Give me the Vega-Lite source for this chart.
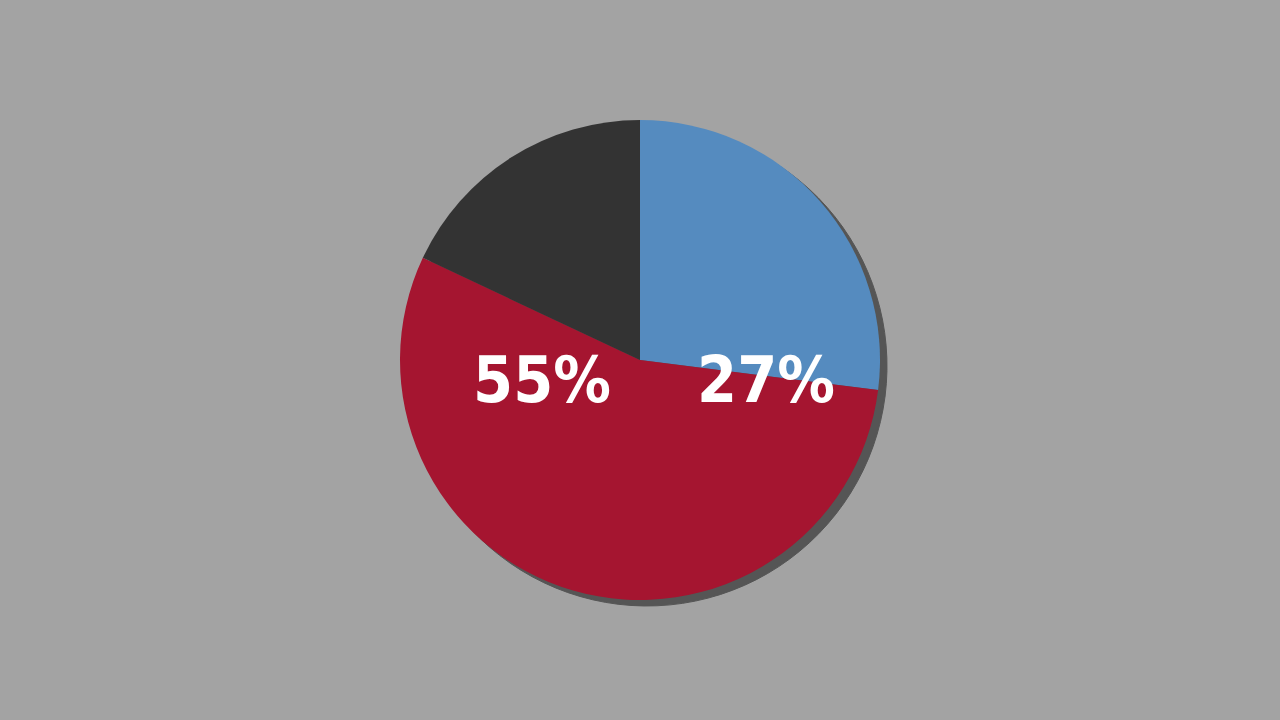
{
  "$schema": "https://vega.github.io/schema/vega-lite/v6.json",
  "autosize": {"type": "fit", "contains": "padding"},
  "width": 1280,
  "height": 720,
  "padding": 0,
  "background": "#a3a3a3",
  "view": {"stroke": null},
  "data": {
    "values": [
      {"segment": "Blue", "rank": 1, "value": 27, "label": "27%"},
      {"segment": "Red", "rank": 2, "value": 55, "label": "55%"},
      {"segment": "Black", "rank": 3, "value": 18, "label": ""}
    ]
  },
  "encoding": {
    "theta": {"field": "value", "type": "quantitative", "stack": true},
    "order": {"field": "rank", "type": "quantitative"}
  },
  "layer": [
    {
      "mark": {"type": "arc", "outerRadius": 240, "fill": "#555555", "xOffset": 7, "yOffset": 6, "stroke": "#555555", "strokeWidth": 1}
    },
    {
      "mark": {"type": "arc", "outerRadius": 240},
      "encoding": {
        "color": {
          "field": "segment",
          "type": "nominal",
          "scale": {"domain": ["Blue", "Red", "Black"], "range": ["#558bbf", "#a51530", "#333333"]},
          "legend": null
        }
      }
    },
    {
      "transform": [{"filter": "datum.segment == 'Red'"}],
      "mark": {"type": "text", "radius": 0, "dx": -98, "dy": 42, "align": "center", "baseline": "alphabetic", "font": "DejaVu Sans Condensed, DejaVu Sans, sans-serif", "fontWeight": "bold", "fontSize": 64, "fill": "#ffffff"},
      "encoding": {"text": {"field": "label"}}
    },
    {
      "transform": [{"filter": "datum.segment == 'Blue'"}],
      "mark": {"type": "text", "radius": 0, "dx": 126, "dy": 42, "align": "center", "baseline": "alphabetic", "font": "DejaVu Sans Condensed, DejaVu Sans, sans-serif", "fontWeight": "bold", "fontSize": 64, "fill": "#ffffff"},
      "encoding": {"text": {"field": "label"}}
    }
  ]
}
